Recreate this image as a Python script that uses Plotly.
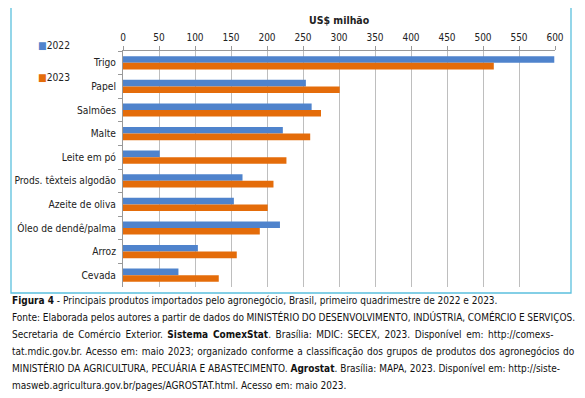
import plotly.graph_objects as go

categories = ["Trigo", "Papel", "Salmões", "Malte", "Leite em pó", "Prods. têxteis algodão",
              "Azeite de oliva", "Óleo de dendê/palma", "Arroz", "Cevada"]
v2022 = [599, 254, 262, 222, 51, 166, 154, 218, 104, 77]
v2023 = [515, 301, 275, 260, 227, 209, 201, 190, 158, 133]
x_ticks = [0, 50, 100, 150, 200, 250, 300, 350, 400, 450, 500, 550, 600]
series_names = ["2022", "2023"]
colors = ["#4F83CC", "#E46C0A"]

caption_lines = [
    "<b>Figura 4</b> - Principais produtos importados pelo agronegócio, Brasil, primeiro quadrimestre de 2022 e 2023.",
    "Fonte: Elaborada pelos autores a partir de dados do MINISTÉRIO DO DESENVOLVIMENTO, INDÚSTRIA, COMÉRCIO E SERVIÇOS.",
    "Secretaria de Comércio Exterior. <b>Sistema ComexStat</b>. Brasília: MDIC: SECEX, 2023. Disponível em: http://comexs-",
    "tat.mdic.gov.br. Acesso em: maio 2023; organizado conforme a classificação dos grupos de produtos dos agronegócios do",
    "MINISTÉRIO DA AGRICULTURA, PECUÁRIA E ABASTECIMENTO. <b>Agrostat</b>. Brasília: MAPA, 2023. Disponível em: http://siste-",
    "masweb.agricultura.gov.br/pages/AGROSTAT.html. Acesso em: maio 2023.",
]
caption_wordspacing = [0, -0.25, 1.7, 0.8, 0.01, 0]

# page body has an 8px default margin: design in screen pixels, shift by OFF
OFF = 8
W, H = 585 - OFF, 398 - OFF
L, R, T, B = 123 - OFF, 555 - OFF, 51 - OFF, 287 - OFF
CHART_FONT = "DejaVu Sans Condensed, DejaVu Sans, sans-serif"
CAP_FONT = "DejaVu Sans Condensed, DejaVu Sans, sans-serif"


def px(x):
    return (x - OFF - L) / (R - L)


def py(y):
    return (B - (y - OFF)) / (B - T)


fig = go.Figure()
for name, vals, col in zip(series_names, [v2022, v2023], colors):
    fig.add_trace(go.Bar(y=categories, x=vals, name=name, orientation="h",
                         marker=dict(color=col, line=dict(width=0)), showlegend=False))

fig.update_layout(
    width=W, height=H,
    margin=dict(l=L, r=W - R, t=T, b=H - B, autoexpand=False),
    paper_bgcolor="white", plot_bgcolor="white",
    barmode="group", bargap=0.44, bargroupgap=0,
    font=dict(family=CHART_FONT, size=10.2, color="#222"),
    xaxis=dict(side="top", range=[0, 600], tickvals=x_ticks, showgrid=True, automargin=False,
               gridcolor="#BEBEBE", gridwidth=1.3, showline=True, linecolor="#999",
               ticks="outside", ticklen=4, tickcolor="#999", zeroline=False,
               tickfont=dict(size=10, color="#222"), ticklabelstandoff=1),
    yaxis=dict(autorange="reversed", showline=True, linecolor="#999", ticks="outside", automargin=False,
               ticklen=4, tickcolor="#999", tickson="boundaries", showgrid=False,
               tickfont=dict(size=10.2, color="#222"), ticklabelstandoff=4),
)

shapes = [dict(type="rect", xref="paper", yref="paper", x0=px(11), x1=px(571), y0=py(293), y1=py(5),
               line=dict(color="#5BC0DE", width=1.3), layer="below")]
fig.update_layout(shapes=shapes)

ann = []
ann.append(dict(text="<b>US$ milhão</b>", xref="paper", yref="paper", x=px(339), y=py(20),
                showarrow=False, font=dict(size=10.5, color="#222"), xanchor="center", yanchor="middle"))
for i, (name, col) in enumerate(zip(series_names, colors)):
    ann.append(dict(text=f"<span style='color:{col}'>■</span>{name}", xref="paper", yref="paper",
                    x=px(36), y=py(45 + 32 * i), showarrow=False, xanchor="left", yanchor="middle",
                    font=dict(size=10.2, color="#222")))
for i, (line, ws) in enumerate(zip(caption_lines, caption_wordspacing)):
    txt = f"<span style='word-spacing:{ws}px'>{line}</span>" if ws else line
    ann.append(dict(text=txt, xref="paper", yref="paper", x=px(11), y=py(300 + 17 * i),
                    showarrow=False, xanchor="left", yanchor="middle", xshift=-1,
                    font=dict(size=10, color="#111", family=CAP_FONT)))
fig.update_layout(annotations=ann)

fig.write_html("out.html")
